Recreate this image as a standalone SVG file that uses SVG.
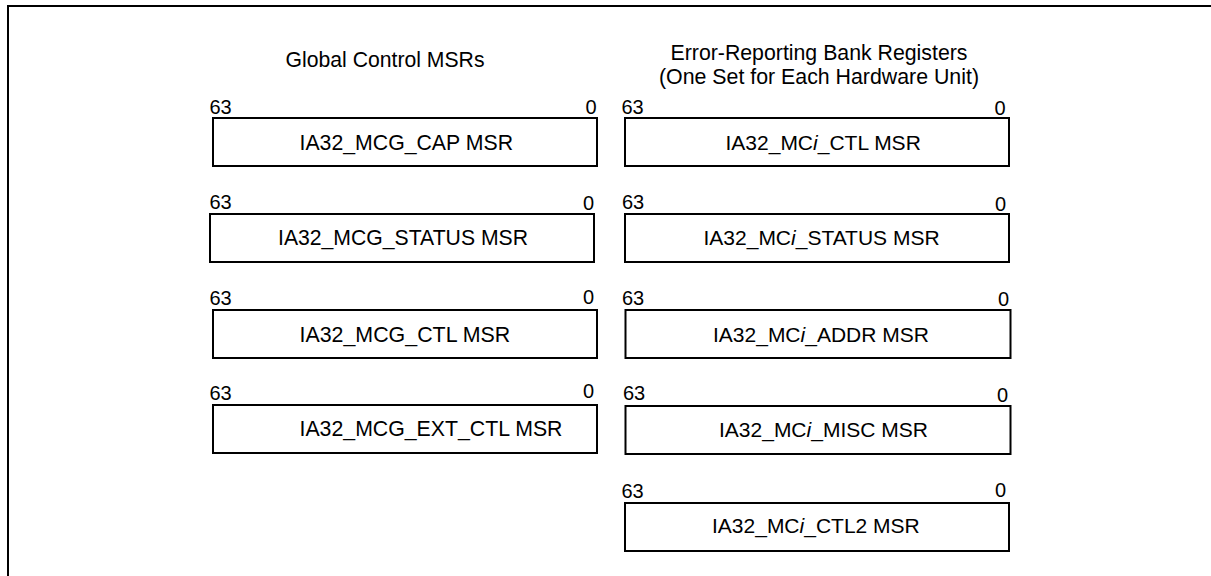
<svg xmlns="http://www.w3.org/2000/svg" width="1211" height="576" viewBox="0 0 1211 576">
<style>
text{font-family:"Liberation Sans",Arial,sans-serif;fill:#000}
.t{font-size:22px;text-anchor:middle}
.l{font-size:22px}
.r{font-size:21px}
.n{font-size:20px}
.z{font-size:20px;text-anchor:end}
.b{fill:#fff;stroke:#000;stroke-width:2}
.i{font-style:italic}
</style>
<rect x="0" y="0" width="1211" height="576" fill="#fff"/>
<rect id="frame" x="8" y="6" width="1230" height="600" fill="none" stroke="#000" stroke-width="2"/>
<g id="titles">
<text class="t" x="385" y="67" textLength="199" lengthAdjust="spacingAndGlyphs">Global Control MSRs</text>
<text class="t" x="819" y="60" textLength="297" lengthAdjust="spacingAndGlyphs">Error-Reporting Bank Registers</text>
<text class="t" x="819" y="84" textLength="320" lengthAdjust="spacingAndGlyphs">(One Set for Each Hardware Unit)</text>
</g>
<g id="mcg_cap">
<text class="n" x="209.5" y="113.5">63</text><text class="z" x="596.5" y="114">0</text>
<rect class="b" x="213" y="118" width="384" height="48"/>
<text class="l" x="299.5" y="149.5" textLength="213.5" lengthAdjust="spacingAndGlyphs">IA32_MCG_CAP MSR</text>
</g>
<g id="mcg_status">
<text class="n" x="209.5" y="208.5">63</text><text class="z" x="594" y="210">0</text>
<rect class="b" x="210" y="214" width="384" height="48"/>
<text class="l" x="278" y="245" textLength="250" lengthAdjust="spacingAndGlyphs">IA32_MCG_STATUS MSR</text>
</g>
<g id="mcg_ctl">
<text class="n" x="209.5" y="305">63</text><text class="z" x="594" y="303.5">0</text>
<rect class="b" x="213" y="310" width="384" height="48"/>
<text class="l" x="299.5" y="341.5" textLength="210.7" lengthAdjust="spacingAndGlyphs">IA32_MCG_CTL MSR</text>
</g>
<g id="mcg_ext_ctl">
<text class="n" x="209.5" y="399.5">63</text><text class="z" x="594" y="397.5">0</text>
<rect class="b" x="213" y="405" width="384" height="48"/>
<text class="l" x="299.5" y="435.5" textLength="263" lengthAdjust="spacingAndGlyphs">IA32_MCG_EXT_CTL MSR</text>
</g>
<g id="mci_ctl">
<text class="n" x="621.5" y="113.5">63</text><text class="z" x="1005.5" y="115">0</text>
<rect class="b" x="625" y="118" width="384" height="48"/>
<text class="r" x="725.5" y="149.5">IA32_MC<tspan class="i">i</tspan>_CTL MSR</text>
</g>
<g id="mci_status">
<text class="n" x="622" y="209">63</text><text class="z" x="1006" y="210.5">0</text>
<rect class="b" x="625" y="214" width="384" height="48"/>
<text class="r" x="703.5" y="245">IA32_MC<tspan class="i">i</tspan>_STATUS MSR</text>
</g>
<g id="mci_addr">
<text class="n" x="622" y="305">63</text><text class="z" x="1009" y="306">0</text>
<rect class="b" x="625.5" y="310" width="385" height="48"/>
<text class="r" x="713" y="341.5">IA32_MC<tspan class="i">i</tspan>_ADDR MSR</text>
</g>
<g id="mci_misc">
<text class="n" x="623" y="400">63</text><text class="z" x="1008" y="401.5">0</text>
<rect class="b" x="625.5" y="406" width="385" height="48"/>
<text class="r" x="719" y="436.5">IA32_MC<tspan class="i">i</tspan>_MISC MSR</text>
</g>
<g id="mci_ctl2">
<text class="n" x="621.5" y="497.5">63</text><text class="z" x="1006" y="497">0</text>
<rect class="b" x="625" y="503" width="384" height="48"/>
<text class="r" x="712" y="533">IA32_MC<tspan class="i">i</tspan>_CTL2 MSR</text>
</g>
<g id="connectors"/>
</svg>
